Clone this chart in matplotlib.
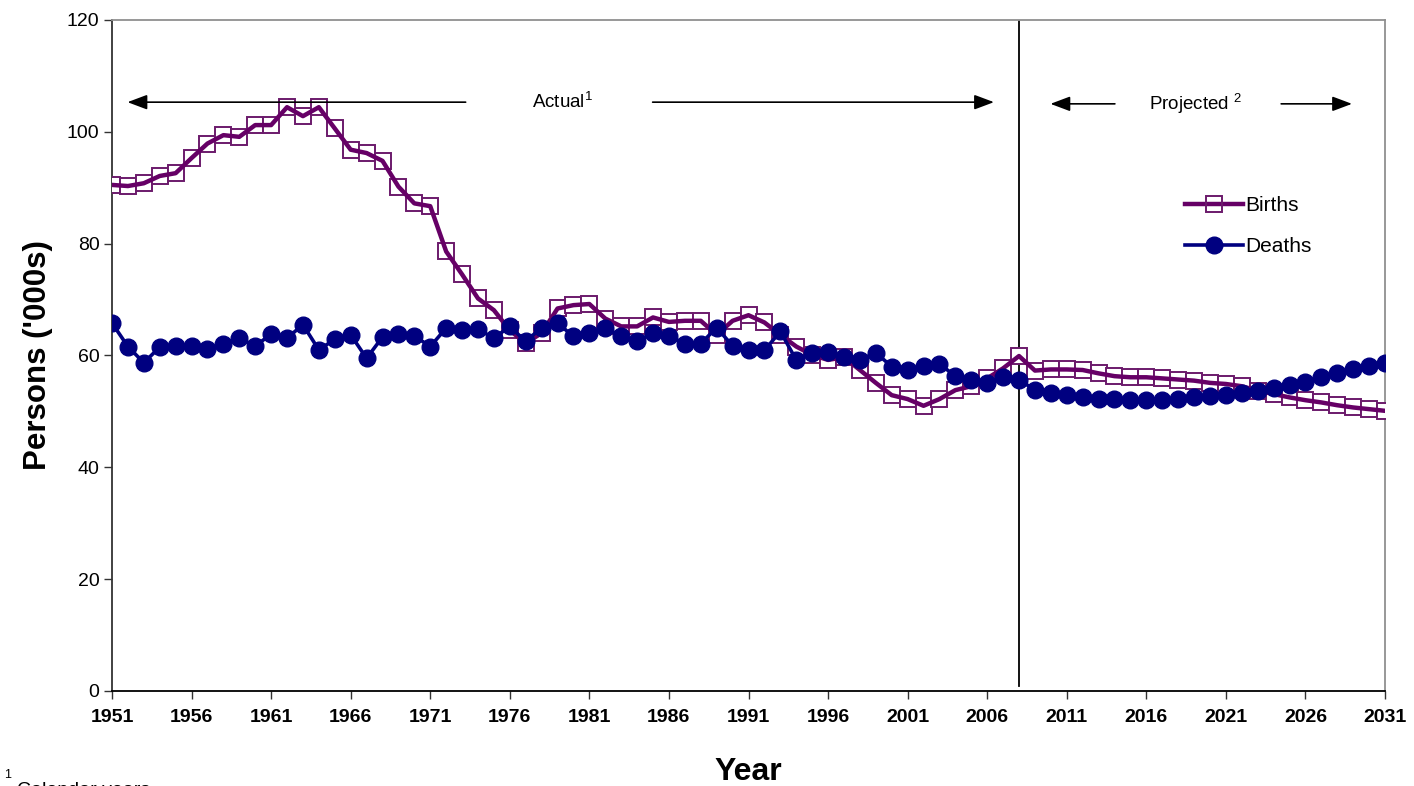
import matplotlib
matplotlib.use("Agg")
import matplotlib.pyplot as plt

plt.rcParams["font.family"] = ["Liberation Sans", "DejaVu Sans"]
plt.rcParams["mathtext.fontset"] = "custom"
plt.rcParams["mathtext.rm"] = "Liberation Sans"
plt.rcParams["mathtext.it"] = "Liberation Sans"

years = list(range(1951, 2032))

births = [
    90.5, 90.3, 90.8, 92.1, 92.6, 95.3, 97.9, 99.4, 99.1, 101.2,
    101.2, 104.4, 102.8, 104.4, 100.6, 96.8, 96.2, 94.8, 90.2, 87.2,
    86.7, 78.6, 74.5, 70.2, 68.1, 64.5, 62.2, 64.0, 68.4, 69.0,
    69.2, 66.6, 65.2, 65.2, 66.8, 66.0, 66.2, 66.2, 63.7, 66.2,
    67.2, 65.9, 63.7, 61.6, 60.1, 59.2, 59.7, 57.4, 55.1, 52.9,
    52.2, 51.0, 52.2, 53.8, 54.5, 55.9, 57.7, 59.9, 57.3, 57.5,
    57.5, 57.4, 56.8, 56.3, 56.1, 56.1, 55.9, 55.7, 55.5, 55.1,
    54.9, 54.5, 53.7, 53.1, 52.5, 52.0, 51.6, 51.1, 50.7, 50.4,
    50.1,
]

deaths = [
    65.8, 61.6, 58.7, 61.5, 61.7, 61.7, 61.1, 62.1, 63.1, 61.7,
    63.8, 63.1, 65.5, 61.0, 62.9, 63.7, 59.5, 63.3, 63.8, 63.5,
    61.6, 64.9, 64.6, 64.7, 63.1, 65.2, 62.5, 65.0, 65.8, 63.4,
    64.0, 65.0, 63.4, 62.5, 64.1, 63.5, 62.1, 62.1, 65.0, 61.7,
    61.0, 60.9, 64.3, 59.2, 60.5, 60.7, 59.7, 59.2, 60.5, 58.0,
    57.4, 58.1, 58.5, 56.3, 55.7, 55.1, 56.1, 55.7, 53.8, 53.3,
    52.9, 52.6, 52.3, 52.2, 52.0, 52.0, 52.0, 52.2, 52.5, 52.8,
    52.9, 53.3, 53.7, 54.1, 54.7, 55.3, 56.1, 56.8, 57.5, 58.1,
    58.7,
]

xtick_years = list(range(1951, 2032, 5))
yticks = [0, 20, 40, 60, 80, 100, 120]
split_year = 2008

fig = plt.figure(figsize=(14.14, 7.86), dpi=100)
ax = fig.add_axes([0.0792, 0.1209, 0.9003, 0.8537])

# open squares under the line, so the line shows through them
ax.plot(years, births, linestyle="none", marker="s", ms=12, mfc="white",
        mec="#6b1a6b", mew=1.4, zorder=3)
ax.plot(years, births, color="#660066", lw=3.2, zorder=3.5)
ax.plot(years, deaths, color="#000080", lw=2.6, marker="o", ms=12,
        mfc="#000080", mec="#000080", zorder=4)

# legend proxies
ax.plot([], [], color="#660066", lw=3.2, marker="s", ms=12, mfc="none",
        mec="#6b1a6b", mew=1.4, label="Births")
ax.plot([], [], color="#000080", lw=2.6, marker="o", ms=12,
        mfc="#000080", mec="#000080", label="Deaths")

ax.axvline(split_year, ymin=0.008, ymax=1.0, color="black", lw=1.3, zorder=2)

# period arrows
arr = dict(arrowstyle="-|>,head_length=1.2,head_width=0.45", color="black", lw=1.2)
ax.annotate("", xy=(1951.8, 105.3), xytext=(1973.4, 105.3), arrowprops=arr)
ax.annotate("", xy=(2006.6, 105.3), xytext=(1984.8, 105.3), arrowprops=arr)
ax.text(1979.3, 105.3, "Actual$^1$", ha="center", va="center", fontsize=13.5)
ax.annotate("", xy=(2009.8, 105.0), xytext=(2014.2, 105.0), arrowprops=arr)
ax.annotate("", xy=(2029.1, 105.0), xytext=(2024.3, 105.0), arrowprops=arr)
ax.text(2019.1, 105.0, "Projected $^2$", ha="center", va="center", fontsize=13.5)

ax.set_xlim(1951, 2031)
ax.set_ylim(0, 120)
ax.set_xticks(xtick_years)
ax.set_xticklabels([str(y) for y in xtick_years], fontweight="bold", fontsize=14)
ax.set_yticks(yticks)
ax.set_yticklabels([str(v) for v in yticks], fontsize=14)
ax.tick_params(axis="both", direction="out", length=6, width=1, color="#333333")
ax.tick_params(axis="x", pad=7)
ax.tick_params(axis="y", pad=3)

ax.spines["left"].set_color("#333333")
ax.spines["bottom"].set_color("black")
ax.spines["top"].set_color("#909090")
ax.spines["right"].set_color("#909090")
for s in ax.spines.values():
    s.set_linewidth(1.3)

ax.set_xlabel("Year", fontsize=23, fontweight="bold", labelpad=22)
ax.set_ylabel("Persons ('000s)", fontsize=22.5, fontweight="bold", labelpad=10)

ax.legend(loc="upper left", bbox_to_anchor=(0.843, 0.737), frameon=False,
          fontsize=15, handlelength=2.8, handletextpad=0.1, borderpad=0,
          borderaxespad=0, labelspacing=1.05)

fig.text(0.003, 0.014, "1", fontsize=9, va="center")
fig.text(0.012, -0.006, "Calendar years", fontsize=14, va="center")

fig.savefig("out.png", dpi=100)
